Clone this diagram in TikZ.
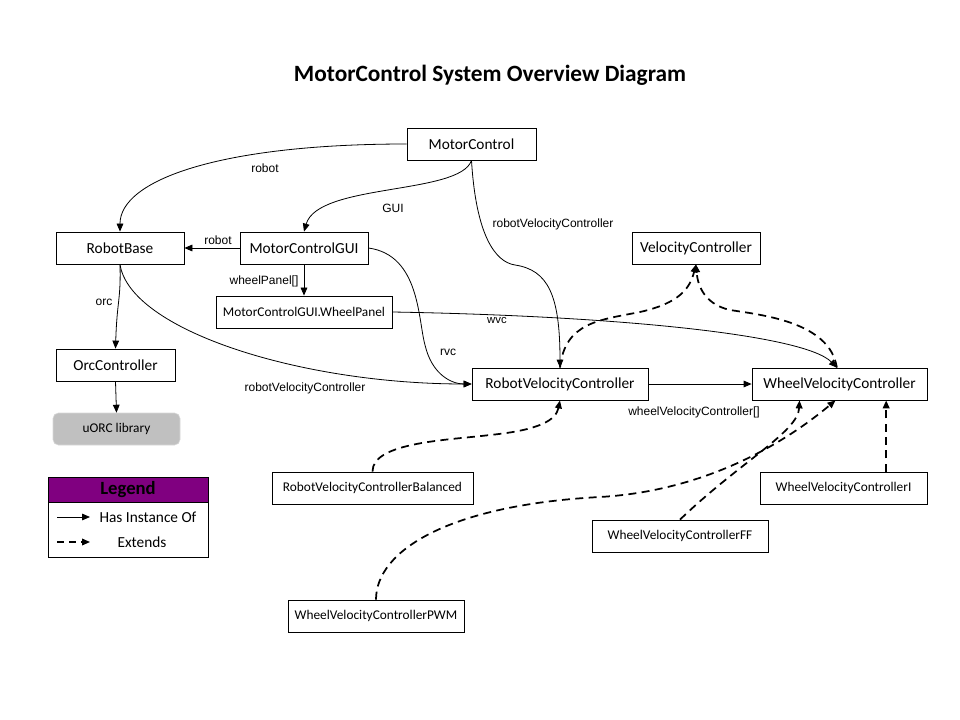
\documentclass[tikz,border=0pt]{standalone}
\usepackage{fontspec}
\setmainfont{Carlito}
\newfontfamily\labfont{Liberation Sans}
\usetikzlibrary{arrows.meta}
\definecolor{legpurple}{HTML}{800080}
\definecolor{libgray}{HTML}{C0C0C0}
\definecolor{libborder}{HTML}{D8D8D8}
\tikzset{
  cls/.style={draw, line width=0.6pt, inner sep=0pt, minimum height=24pt, font=\fontsize{11.5}{13}\selectfont},
  clssmall/.style={cls, font=\fontsize{10}{12}\selectfont},
  lbl/.style={inner sep=0pt, font=\labfont\fontsize{9}{10}\selectfont},
  has/.style={draw, line width=0.6pt, -{Triangle[length=6pt,width=5pt]}},
  ext/.style={draw, line width=1.3pt, dash pattern=on 6pt off 4pt, -{Triangle[length=6pt,width=5pt]}},
}
\begin{document}
\begin{tikzpicture}[x=0.75pt, y=-0.75pt]
\useasboundingbox (0,0) rectangle (960,720);
\fill[white] (0,0) rectangle (960,720);

\node[font=\bfseries\fontsize{17.5}{20}\selectfont] (title) at (490,75) {MotorControl System Overview Diagram};

% classes
\node[cls, minimum width=96.75pt] (mc) at (471.5,144) {MotorControl};
\node[cls, minimum width=96pt] (rb) at (120,248) {RobotBase};
\node[cls, minimum width=96pt] (gui) at (304,248) {MotorControlGUI};
\node[clssmall, minimum width=132pt] (wp) at (304,312) {MotorControlGUI.WheelPanel};
\node[cls, minimum width=89.25pt] (orc) at (115.5,365) {OrcController};
\node[draw=libborder, fill=libgray, rounded corners=4pt, inner sep=0pt, minimum width=95.25pt, minimum height=24pt, font=\fontsize{10}{12}\selectfont] (lib) at (116.5,429) {uORC library};
\node[cls, minimum width=96pt] (vc) at (696,248) {VelocityController};
\node[cls, minimum width=132pt] (rvc) at (560,384) {RobotVelocityController};
\node[cls, minimum width=131.25pt] (wvc) at (839.5,384) {WheelVelocityController};
\node[clssmall, minimum width=150.75pt] (rvcb) at (372.5,488) {RobotVelocityControllerBalanced};
\node[clssmall, minimum width=125.25pt] (wvci) at (843.5,488) {WheelVelocityControllerI};
\node[clssmall, minimum width=132pt] (wvcff) at (680,536) {WheelVelocityControllerFF};
\node[clssmall, minimum width=132pt] (wvcpwm) at (376,616) {WheelVelocityControllerPWM};

% has-instance connectors
\draw[has] (mc.west) .. controls (220,144) and (120,180) .. (rb.north);
\draw[has] (mc.south) .. controls (460,195) and (318,183) .. (gui.north);
\draw[has] (mc.south) .. controls (476,235) and (495,262) .. (515,265) .. controls (548,270) and (560,295) .. (rvc.north);
\draw[has] (gui.west) -- (rb.east);
\draw[has] (gui.south) -- (wp.north);
\draw[has] (gui.east) .. controls (420,255) and (418,320) .. (425,345) .. controls (432,375) and (452,384) .. (rvc.west);
\draw[has] (wp.east) .. controls (620,316) and (805,335) .. ([xshift=-2pt]wvc.north);
\draw[has] (rb.south) .. controls (121,300) and (117,300) .. (orc.north);
\draw[has] (rb.south) .. controls (130,330) and (300,384) .. (rvc.west);
\draw[has] (orc.south) -- (lib.north);
\draw[has] (rvc.east) -- (wvc.west);

% labels
\node[lbl] (l1) at (265,168) {robot};
\node[lbl] (l2) at (393,208) {GUI};
\node[lbl] (l3) at (553,224) {robotVelocityController};
\node[lbl] (l4) at (218,240) {robot};
\node[lbl] (l5) at (264,281) {wheelPanel[]};
\node[lbl] (l6) at (448,352) {rvc};
\node[lbl, font=\labfont\fontsize{8.5}{10}\selectfont] (l7) at (497,321) {wvc};
\node[lbl] (l8) at (104,302) {orc};
\node[lbl] (l9) at (305,388) {robotVelocityController};
\node[lbl] (l10) at (694,412) {wheelVelocityController[]};

% extends connectors
\draw[ext] (rvc.north) .. controls (565,322) and (600,320) .. (640,312) .. controls (680,303) and (690,288) .. (vc.south);
\draw[ext] ([xshift=-2pt]wvc.north) .. controls (830,322) and (762,315) .. (730,310) .. controls (708,305) and (698,290) .. (vc.south);
\draw[ext] (rvcb.north) .. controls (372,442) and (450,440) .. (490,435) .. controls (540,430) and (556,420) .. (rvc.south);
\draw[ext] (wvcpwm.north) .. controls (376,550) and (450,505) .. (600,497) .. controls (720,490) and (800,430) .. ([xshift=-3pt]wvc.south);
\draw[ext] (wvcff.north) .. controls (740,462) and (798,432) .. ([xshift=-30pt]wvc.south);
\draw[ext] ([xshift=32pt]wvci.north) -- ([xshift=32pt]wvci.north |- wvc.south);

% legend
\node[draw, line width=0.6pt, inner sep=0pt, minimum width=120pt, minimum height=60pt] (legbox) at (128,517) {};
\node[draw, line width=0.6pt, fill=legpurple, inner sep=0pt, minimum width=120pt, minimum height=18.75pt, font=\bfseries\fontsize{14}{16}\selectfont] (leghead) at (128,489.5) {Legend};
\coordinate (la1) at (57,517);
\coordinate (la2) at (90,517);
\coordinate (lb1) at (57,542);
\coordinate (lb2) at (90,542);
\draw[has] (la1) -- (la2);
\draw[ext, line width=1.1pt, dash pattern=on 5pt off 4pt] (lb1) -- (lb2);
\node[font=\fontsize{11.5}{13}\selectfont, inner sep=0pt] (legt1) at (148,517) {Has Instance Of};
\node[font=\fontsize{11.5}{13}\selectfont, inner sep=0pt] (legt2) at (142,542) {Extends};
\end{tikzpicture}
\end{document}
